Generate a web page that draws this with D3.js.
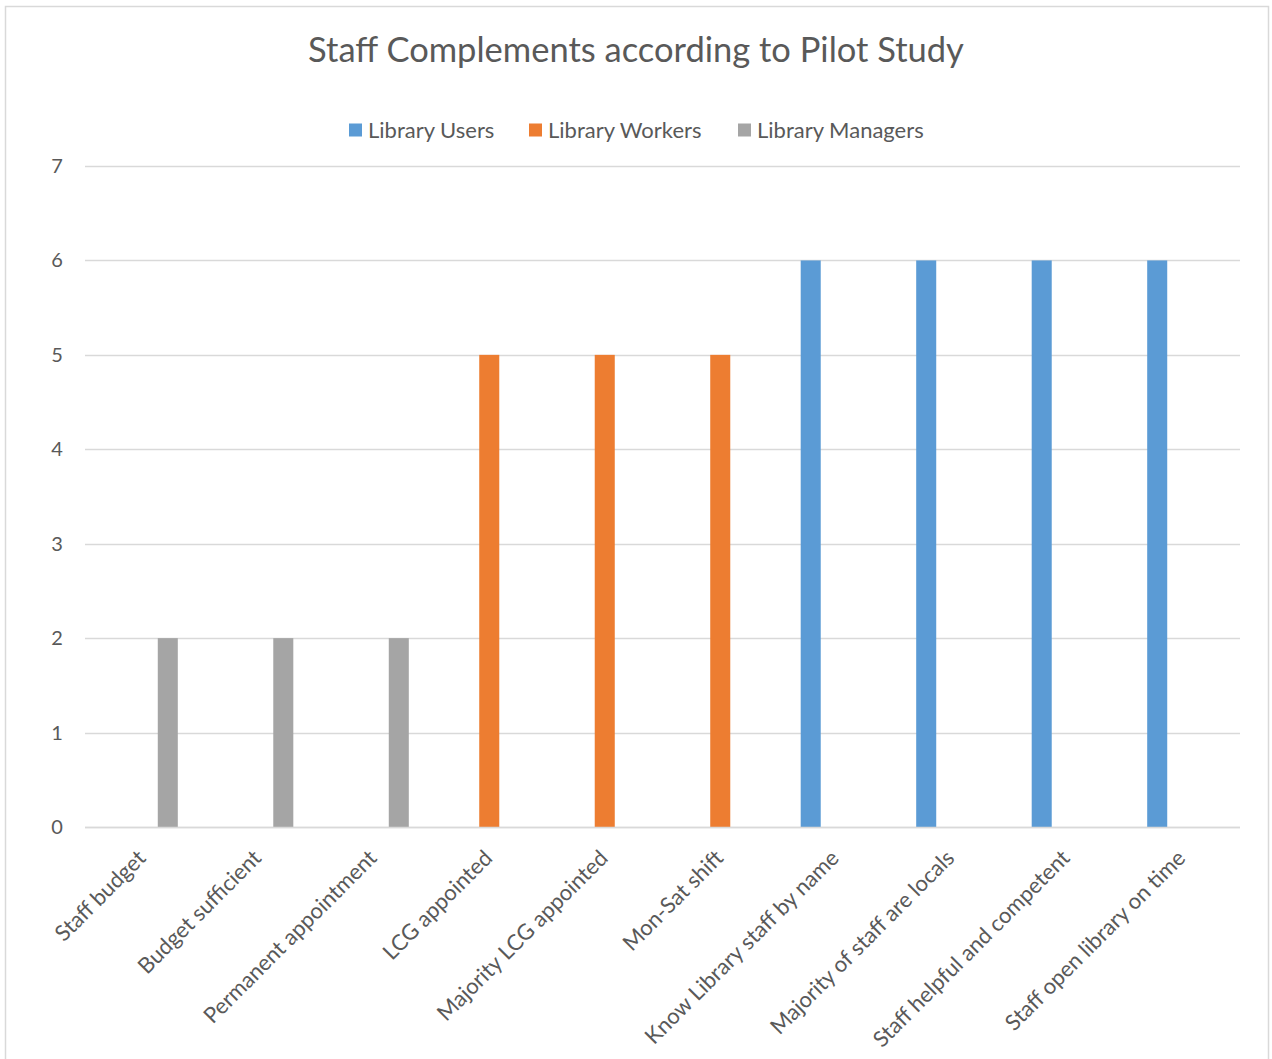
<!DOCTYPE html>
<html>
<head>
<meta charset="utf-8">
<script src="https://cdn.jsdelivr.net/npm/d3@7"></script>
<style>
  html, body { margin: 0; padding: 0; background: #fff; }
  svg { display: block; font-family: Lato, "Open Sans", sans-serif; }
</style>
</head>
<body>
<svg id="chart" width="1272" height="1059"></svg>
<script>
// Survey items along the horizontal axis
const categories = [
  "Staff budget", "Budget sufficient", "Permanent appointment",
  "LCG appointed", "Majority LCG appointed", "Mon-Sat shift",
  "Know Library staff by name", "Majority of staff are locals",
  "Staff helpful and competent", "Staff open library on time"
];
// Respondent groups and their counts per item
const seriesNames = ["Library Users", "Library Workers", "Library Managers"];
const libraryUsers    = [0, 0, 0, 0, 0, 0, 6, 6, 6, 6];
const libraryWorkers  = [0, 0, 0, 5, 5, 5, 0, 0, 0, 0];
const libraryManagers = [2, 2, 2, 0, 0, 0, 0, 0, 0, 0];
const yTicks = [0, 1, 2, 3, 4, 5, 6, 7];
const colors = ["#5b9bd5", "#ed7d31", "#a5a5a5"];

const seriesValues = [libraryUsers, libraryWorkers, libraryManagers];
const rows = categories.map((c, i) => ({
  cat: c,
  vals: seriesNames.map((s, k) => ({ key: s, value: seriesValues[k][i], color: colors[k] }))
}));

const svg = d3.select("#chart");
const textColor = "#595959";
const gridColor = "#d9d9d9";

// chart frame
svg.append("rect")
  .attr("x", 5.5).attr("y", 6.5)
  .attr("width", 1263).attr("height", 1080)
  .attr("fill", "#fff").attr("stroke", gridColor).attr("stroke-width", 1.5);

const plot = { left: 85, right: 1240, top: 166, bottom: 827 };

const x0 = d3.scaleBand()
  .domain(categories)
  .range([plot.left, plot.right])
  .paddingInner(0.393)
  .paddingOuter(0.1965);

const x1 = d3.scaleBand()
  .domain(seriesNames)
  .range([0, x0.bandwidth()])
  .paddingInner(0.2)
  .paddingOuter(0);

const y = d3.scaleLinear().domain([0, 7]).range([plot.bottom, plot.top]);

// horizontal gridlines
svg.append("g")
  .selectAll("line")
  .data(yTicks)
  .join("line")
  .attr("x1", plot.left).attr("x2", plot.right)
  .attr("y1", d => Math.round(y(d)) + 0.5).attr("y2", d => Math.round(y(d)) + 0.5)
  .attr("stroke", gridColor).attr("stroke-width", 1.5);

// y tick labels
svg.append("g")
  .selectAll("text")
  .data(yTicks)
  .join("text")
  .attr("x", 57).attr("y", d => y(d))
  .attr("dy", "0.35em")
  .attr("text-anchor", "middle")
  .attr("fill", textColor)
  .attr("font-size", 20)
  .text(d => d);

// bars
svg.append("g")
  .selectAll("g")
  .data(rows)
  .join("g")
  .attr("transform", d => `translate(${x0(d.cat)},0)`)
  .selectAll("rect")
  .data(d => d.vals.filter(v => v.value > 0))
  .join("rect")
  .attr("x", d => x1(d.key))
  .attr("width", x1.bandwidth())
  .attr("y", d => y(d.value))
  .attr("height", d => y(0) - y(d.value))
  .attr("fill", d => d.color);

// baseline
svg.append("line")
  .attr("x1", plot.left).attr("x2", plot.right)
  .attr("y1", plot.bottom + 0.5).attr("y2", plot.bottom + 0.5)
  .attr("stroke", gridColor).attr("stroke-width", 1.5);

// category labels, rotated
svg.append("g")
  .selectAll("text")
  .data(categories)
  .join("text")
  .attr("transform", d => `translate(${x0(d) + x0.bandwidth() / 2 - 1},${plot.bottom + 27}) rotate(-45)`)
  .attr("text-anchor", "end")
  .attr("dy", "0.35em")
  .attr("fill", textColor)
  .attr("font-size", 22)
  .text(d => d);

// title
svg.append("text")
  .attr("x", 636).attr("y", 62)
  .attr("text-anchor", "middle")
  .attr("fill", textColor)
  .attr("font-size", 34.5)
  .text("Staff Complements according to Pilot Study");

// legend
const legendX = [349, 529, 738];
const legend = svg.append("g")
  .selectAll("g")
  .data(seriesNames)
  .join("g")
  .attr("transform", (d, i) => `translate(${legendX[i]},130)`);
legend.append("rect")
  .attr("x", 0).attr("y", -6.5)
  .attr("width", 13).attr("height", 13)
  .attr("fill", (d, i) => colors[i]);
legend.append("text")
  .attr("x", 19).attr("dy", "0.35em")
  .attr("fill", textColor)
  .attr("font-size", 22)
  .text(d => d);
</script>
</body>
</html>
